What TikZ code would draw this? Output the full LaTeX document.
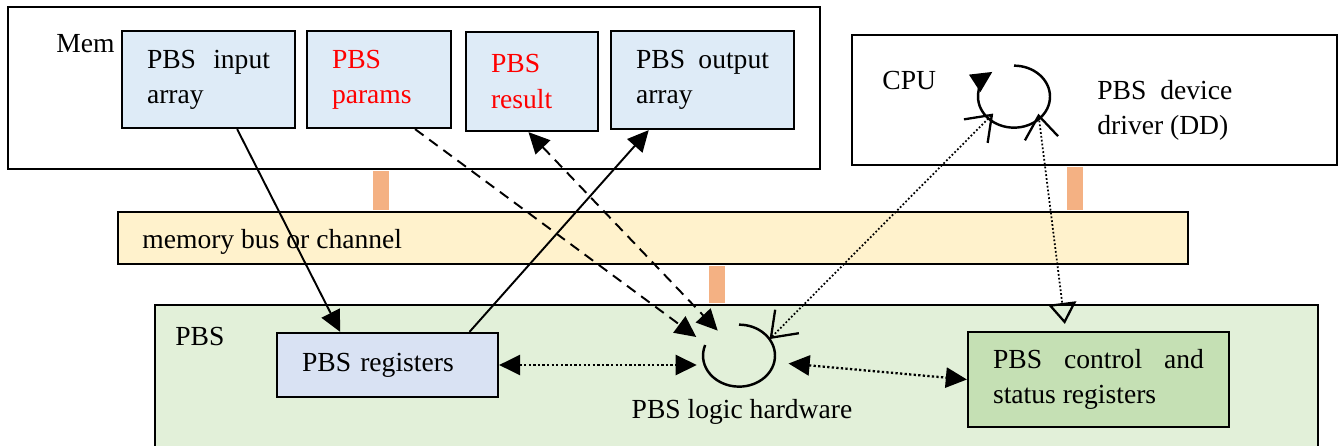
\documentclass[tikz,border=0pt]{standalone}
\usepackage{fontspec}
\setmainfont{Liberation Serif}
\usetikzlibrary{arrows.meta}
\usetikzlibrary{shapes.geometric}
\definecolor{memblue}{HTML}{DEEBF7}
\definecolor{regblue}{HTML}{D9E2F3}
\definecolor{busyellow}{HTML}{FFF2CC}
\definecolor{linkorange}{HTML}{F4B183}
\definecolor{pbsgreen}{HTML}{E2F0D9}
\definecolor{ctlgreen}{HTML}{C5E0B4}

\begin{document}
\begin{tikzpicture}[x=0.02cm, y=-0.02cm, >={Triangle[length=12pt,width=11.5pt]},
		font=\fontsize{15.7}{20}\selectfont,
		outerbox/.style={draw, line width=1.3pt, inner sep=0pt},
		memcell/.style={draw, line width=1.3pt, fill=memblue, inner xsep=0.5cm, inner ysep=0pt, align=justify},
		boxtitle/.style={anchor=base west, inner sep=0pt},
		loopnode/.style={ellipse, minimum width=1.44cm, minimum height=1.24cm, inner sep=0pt},
		buslink/.style={draw=linkorange, line width=0.32cm, shorten <=0.6pt, shorten >=0.6pt},
		barb/.tip={Straight Barb[length=13pt,width=19pt,line width=1.3pt]},
		solidarrow/.style={line width=1.1pt},
		dashedarrow/.style={line width=1.1pt, dash pattern=on 6pt off 4pt},
		dotarrow/.style={line width=1.3pt, dash pattern=on 1.3pt off 1.3pt},
		thindots/.style={line width=1pt, dash pattern=on 1pt off 1.2pt}]
			\useasboundingbox (0,0) rectangle (1338,446);
			% outer boxes
			\node[outerbox, minimum width=16.24cm, minimum height=3.24cm] (mem) at (414,88) {};
			\node[outerbox, minimum width=9.70cm, minimum height=2.60cm] (cpu) at (1094.5,100) {};
			\node[outerbox, fill=busyellow, minimum width=21.40cm, minimum height=1.04cm] (bus) at (653,238) {};
			\node[outerbox, fill=pbsgreen, minimum width=23.26cm, minimum height=3.30cm] (pbs) at (736.5,387.5) {};
			% links to the bus
			\coordinate (memlink) at ([xshift=-0.66cm]mem.south);
			\coordinate (cpulink) at ([xshift=-0.39cm]cpu.south);
			\coordinate (pbslink) at ([xshift=1.28cm]bus.south);
			\draw[buslink] (memlink) -- (memlink |- bus.north);
			\draw[buslink] (cpulink) -- (cpulink |- bus.north);
			\draw[buslink] (pbslink) -- (pbslink |- pbs.north);
			% titles
			\node[boxtitle] (memtitle) at (56,53) {Mem};
			\node[boxtitle] (cputitle) at (882,90) {CPU};
			\node[boxtitle] (bustitle) at (142,248) {memory bus or channel};
			\node[boxtitle] (pbstitle) at (175,345) {PBS};
			\node[anchor=west, inner sep=0pt, text width=2.7cm, align=justify] (ddtext) at (1097,110) {PBS device driver (DD)};
			% memory cells
			\node[memcell, text width=2.46cm, minimum height=1.94cm] (in) at (208.5,79.5) {PBS input array};
			\node[memcell, text width=1.88cm, minimum height=1.94cm, text=red, align=left] (par) at (379,79.5) {PBS\\params};
			\node[memcell, text width=1.64cm, minimum height=1.98cm, text=red, align=left] (res) at (532,81.5) {PBS\\result};
			\node[memcell, text width=2.66cm, minimum height=1.96cm] (out) at (702.5,80) {PBS output array};
			% PBS parts
			\node[memcell, fill=regblue, text width=3.42cm, minimum height=1.28cm, align=left] (reg) at (387.5,365) {PBS registers};
			\node[memcell, fill=ctlgreen, text width=4.22cm, minimum height=1.90cm] (ctl) at (1098.5,379.5) {PBS control and status registers};
			\node[loopnode] (logic) at (739,356) {};
			\node[loopnode] (loop) at (1014,97) {};
			\node[anchor=base, inner sep=0pt] (logictitle) at (742,418) {PBS logic hardware};
			% loops
			\draw[line width=1.4pt] (logic.90) arc[start angle=90, end angle=-200, x radius=0.72cm, y radius=0.62cm];
			\draw[line width=1.4pt, ->] (loop.90) arc[start angle=90, end angle=-233, x radius=0.72cm, y radius=0.62cm];
			% data paths
			\draw[solidarrow, ->] (in.-60) -- (reg.145);
			\draw[solidarrow, ->] (reg.22) -- (out.-137);
			\draw[dashedarrow, ->, shorten >=0.23cm] (par.-54) -- (logic.160);
			\draw[dashedarrow, <->] (res.-94) -- (logic.130);
			\draw[dotarrow, <->, shorten >=0.12cm] (reg.east) -- (reg.east -| logic.west);
			\draw[dotarrow, <->, shorten <=0.28cm] (logic.-10) -- (ctl.west);
			% driver paths
			\draw[thindots, {barb}-{barb}, shorten <=-0.15cm] (loop.220) -- (logic.29);
			\draw[thindots, {barb}-{Triangle[open,length=12pt,width=16pt,line width=1.3pt]}, shorten <=-0.12cm, shorten >=0.14cm] (loop.-42) -- (ctl.124);
		\end{tikzpicture}
\end{document}
